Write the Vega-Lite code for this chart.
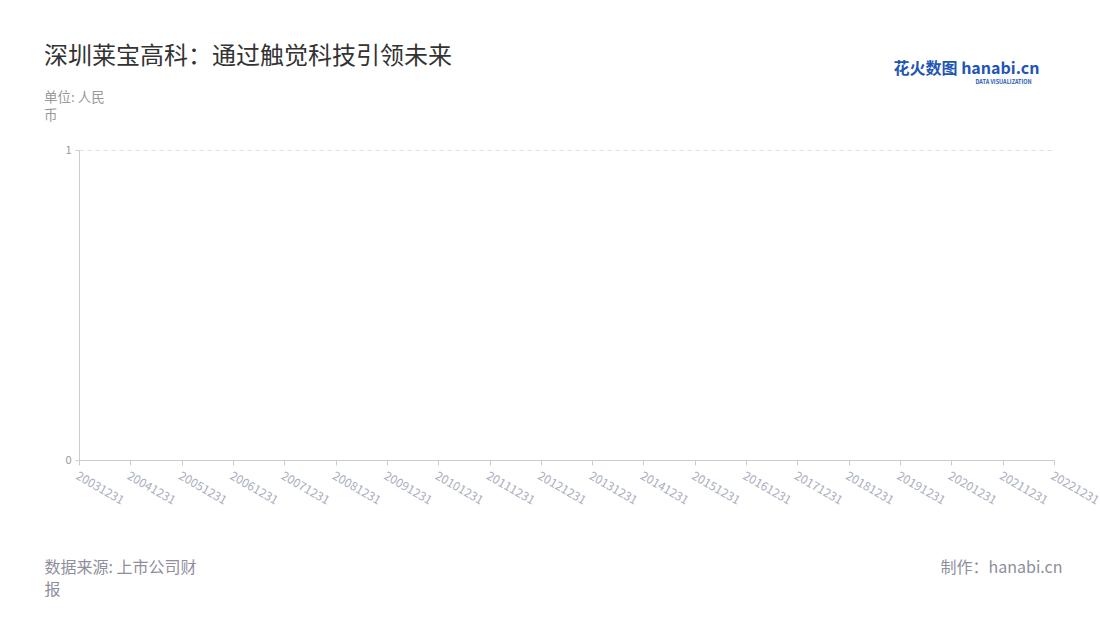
{
  "$schema": "https://vega.github.io/schema/vega-lite/v6.json",
  "width": 975,
  "height": 310,
  "autosize": {"type": "none"},
  "padding": {"left": 79, "top": 150, "right": 46, "bottom": 160},
  "background": "#ffffff",
  "config": {
    "font": "Noto Sans CJK SC",
    "view": {"stroke": null}
  },
  "title": {
    "text": "深圳莱宝高科：通过触觉科技引领未来",
    "subtitle": ["单位: 人民", "币"],
    "anchor": "start",
    "frame": "group",
    "dx": -35,
    "dy": 62,
    "offset": 0,
    "font": "Noto Sans CJK SC",
    "fontSize": 24,
    "fontWeight": "normal",
    "color": "#333333",
    "subtitleFont": "Noto Sans CJK SC",
    "subtitleFontSize": 13.5,
    "subtitleColor": "#999999",
    "subtitleLineHeight": 18,
    "subtitlePadding": 22
  },
  "data": {
    "values": [
      {"date": "20031231", "value": null},
      {"date": "20041231", "value": null},
      {"date": "20051231", "value": null},
      {"date": "20061231", "value": null},
      {"date": "20071231", "value": null},
      {"date": "20081231", "value": null},
      {"date": "20091231", "value": null},
      {"date": "20101231", "value": null},
      {"date": "20111231", "value": null},
      {"date": "20121231", "value": null},
      {"date": "20131231", "value": null},
      {"date": "20141231", "value": null},
      {"date": "20151231", "value": null},
      {"date": "20161231", "value": null},
      {"date": "20171231", "value": null},
      {"date": "20181231", "value": null},
      {"date": "20191231", "value": null},
      {"date": "20201231", "value": null},
      {"date": "20211231", "value": null},
      {"date": "20221231", "value": null}
    ]
  },
  "layer": [
    {
      "mark": {"type": "line", "color": "#3b6fd6", "strokeWidth": 2, "invalid": "break-paths-show-domains"},
      "encoding": {
        "x": {
          "field": "date",
          "type": "ordinal",
          "sort": null,
          "scale": {"type": "point", "padding": 0},
          "axis": {
            "orient": "bottom",
            "labelAngle": 30,
            "labelAlign": "left",
            "labelBaseline": "top",
            "labelColor": "#a9aec0",
            "labelFontSize": 12,
            "labelPadding": 5,
            "labelOverlap": false,
            "domainColor": "#cccccc",
            "tickColor": "#cccccc",
            "tickSize": 5,
            "grid": false,
            "title": ["数据来源: 上市公司财", "报"],
            "titleFontSize": 16,
            "titleFontWeight": "normal",
            "titleColor": "#8e8e9e",
            "titleAlign": "left",
            "titleBaseline": "top",
            "titleLineHeight": 22,
            "titleX": -35,
            "titleY": 99
          }
        },
        "y": {
          "field": "value",
          "type": "quantitative",
          "scale": {"domain": [0, 1]},
          "axis": {
            "orient": "left",
            "values": [0, 1],
            "format": "d",
            "labelColor": "#999999",
            "labelFontSize": 11,
            "labelPadding": 4,
            "domainColor": "#cccccc",
            "tickColor": "#cccccc",
            "tickSize": 4,
            "grid": true,
            "gridColor": "#dddddd",
            "gridDash": [4, 4],
            "title": "DATA VISUALIZATION",
            "titleAngle": 0,
            "titleFontSize": 5.5,
            "titleFontWeight": "bold",
            "titleColor": "#2a5db8",
            "titleAlign": "left",
            "titleBaseline": "middle",
            "titleX": 896,
            "titleY": -69
          }
        }
      }
    },
    {
      "mark": {"type": "line", "color": "#3b6fd6", "strokeWidth": 2, "invalid": "break-paths-show-domains"},
      "encoding": {
        "x": {
          "field": "date",
          "type": "ordinal",
          "sort": null,
          "axis": {
            "orient": "top",
            "labels": false,
            "ticks": false,
            "domain": false,
            "grid": false,
            "title": "花火数图 hanabi.cn",
            "titleFontSize": 16,
            "titleFontWeight": "bold",
            "titleColor": "#1f55b5",
            "titleAlign": "left",
            "titleBaseline": "top",
            "titleX": 814,
            "titleY": -90
          }
        },
        "y": {
          "field": "value",
          "type": "quantitative",
          "axis": {
            "orient": "right",
            "labels": false,
            "ticks": false,
            "domain": false,
            "grid": false,
            "title": "制作：hanabi.cn",
            "titleAngle": 0,
            "titleFontSize": 16,
            "titleFontWeight": "normal",
            "titleColor": "#8e8e9e",
            "titleAlign": "right",
            "titleBaseline": "top",
            "titleX": 8,
            "titleY": 409
          }
        }
      }
    }
  ],
  "resolve": {"axis": {"x": "independent", "y": "independent"}}
}
